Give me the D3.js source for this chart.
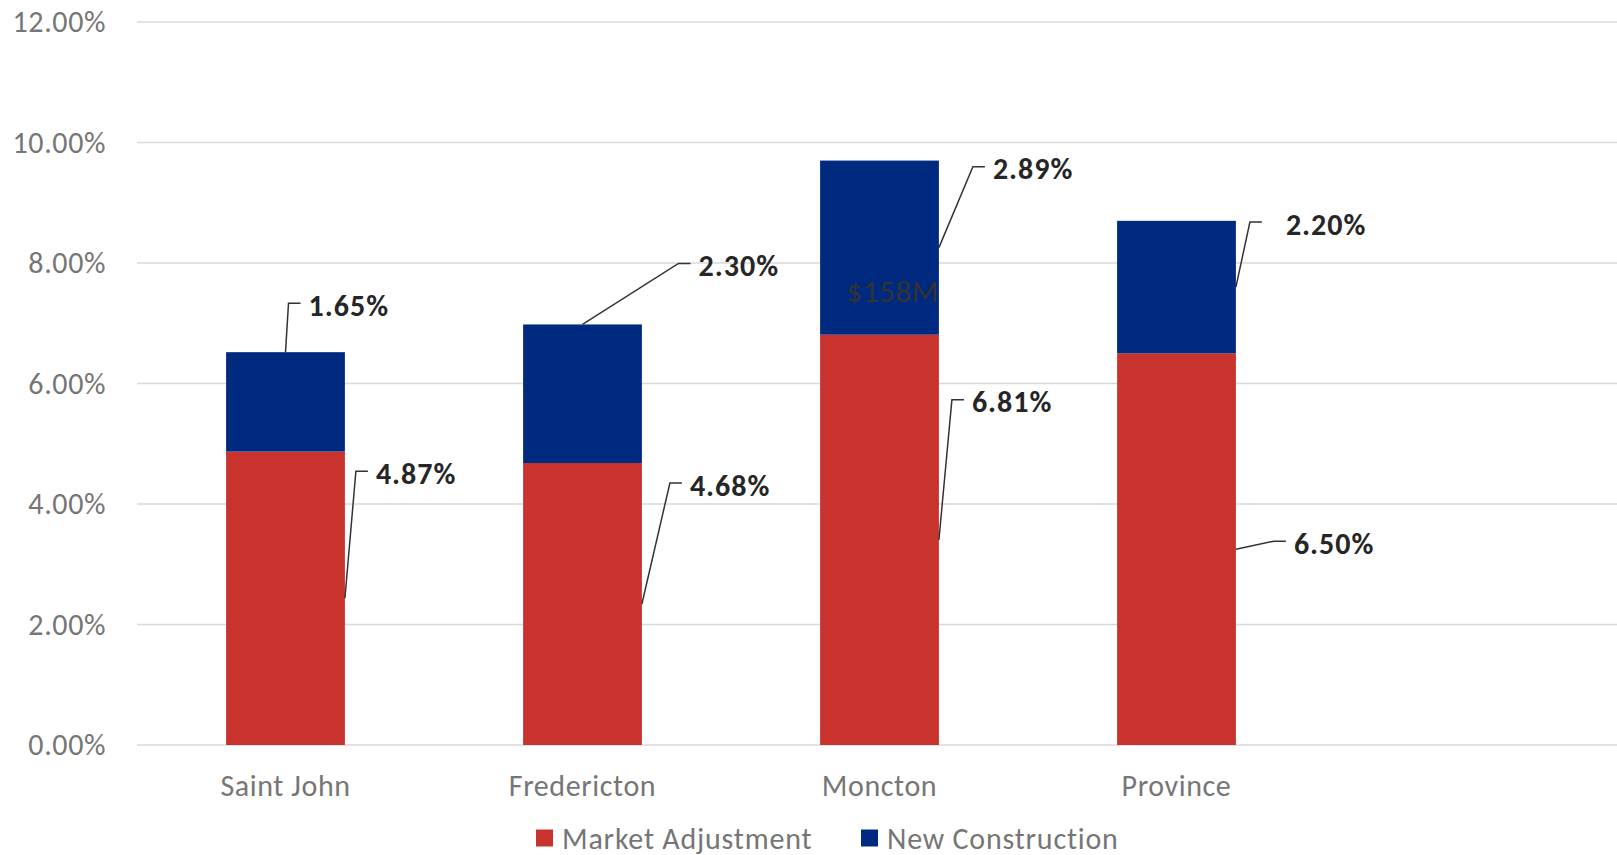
<!DOCTYPE html>
<html>
<head>
<meta charset="utf-8">
<script src="https://cdn.jsdelivr.net/npm/d3@7"></script>
<style>
  html, body { margin: 0; padding: 0; background: #ffffff; }
  svg { display: block; font-family: Carlito, Lato, "Open Sans", sans-serif; }
</style>
</head>
<body>
<svg id="chart" width="1617" height="855"></svg>
<script>
// Data
const categories = ["Saint John", "Fredericton", "Moncton", "Province"];
const marketAdjustment = [0.0487, 0.0468, 0.0681, 0.0650];
const newConstruction = [0.0165, 0.0230, 0.0289, 0.0220];
const seriesNames = ["Market Adjustment", "New Construction"];
const yTicks = [0, 0.02, 0.04, 0.06, 0.08, 0.10, 0.12];
const strayNote = "$158M";

// Styling
const colors = { "Market Adjustment": "#C8332D", "New Construction": "#002A80" };
const gridColor = "#D9D9D9";
const axisTextColor = "#767676";
const labelColor = "#262626";
const textSize = "30px";
const textSpacing = "0.6px";

// Leader-line layout for each data label: where the line leaves the bar
// ("top" = top centre, "side" = right edge at segment middle), the knee offset,
// and the extra gap before the text.
const leaderLayout = {
  "Market Adjustment": [
    { anchor: "side", dx: 11, dy: -127, gap: 8 },
    { anchor: "side", dx: 28, dy: -121, gap: 8 },
    { anchor: "side", dx: 13, dy: -140, gap: 8 },
    { anchor: "side", dx: 38, dy: -8, gap: 8 }
  ],
  "New Construction": [
    { anchor: "top", dx: 3, dy: -49, gap: 8 },
    { anchor: "top", dx: 96, dy: -61, gap: 8 },
    { anchor: "side", dx: 34, dy: -81, gap: 8 },
    { anchor: "side", dx: 14, dy: -65, gap: 24 }
  ]
};

const svg = d3.select("#chart");
const plot = { left: 137, right: 1617, top: 22, bottom: 745 };

// Four category slots, each 297px wide, leaving an empty slot at the right
const slot = 297;
const x = d3.scaleBand()
  .domain(categories)
  .range([plot.left, plot.left + slot * categories.length])
  .paddingInner(0.6)
  .paddingOuter(0.3);

const y = d3.scaleLinear()
  .domain([0, 0.12])
  .range([plot.bottom, plot.top]);

const fmt = d3.format(".2%");

// Gridlines
svg.append("g")
  .selectAll("line")
  .data(yTicks)
  .join("line")
  .attr("x1", plot.left)
  .attr("x2", plot.right)
  .attr("y1", d => y(d))
  .attr("y2", d => y(d))
  .attr("stroke", gridColor)
  .attr("stroke-width", 1.6);

// Y axis labels
const yAxis = d3.axisLeft(y).tickValues(yTicks).tickFormat(fmt).tickSize(0).tickPadding(31);
const yG = svg.append("g").attr("transform", `translate(${plot.left},0)`).call(yAxis);
yG.select(".domain").remove();
yG.selectAll("text")
  .attr("fill", axisTextColor)
  .style("font-size", textSize)
  .style("letter-spacing", textSpacing)
  .style("font-family", "Carlito, Lato, sans-serif");

// X axis labels
const xAxis = d3.axisBottom(x).tickSize(0).tickPadding(30);
const xG = svg.append("g").attr("transform", `translate(0,${plot.bottom})`).call(xAxis);
xG.select(".domain").remove();
xG.selectAll("text")
  .attr("fill", axisTextColor)
  .style("font-size", textSize)
  .style("letter-spacing", textSpacing)
  .style("font-family", "Carlito, Lato, sans-serif");

// Stacked bars
const rows = categories.map((c, i) => ({
  category: c,
  "Market Adjustment": marketAdjustment[i],
  "New Construction": newConstruction[i]
}));
const stacked = d3.stack().keys(seriesNames)(rows);

const layers = svg.append("g")
  .selectAll("g")
  .data(stacked)
  .join("g")
  .attr("fill", d => colors[d.key]);

layers.selectAll("rect")
  .data(d => d.map(p => ({ key: d.key, p })))
  .join("rect")
  .attr("x", d => x(d.p.data.category))
  .attr("width", x.bandwidth())
  .attr("y", d => y(d.p[1]))
  .attr("height", d => y(d.p[0]) - y(d.p[1]));

// Stray value text inside the Moncton new-construction segment
const mIdx = categories.indexOf("Moncton");
const mSeg = stacked[1][mIdx];
svg.append("text")
  .attr("x", x("Moncton") + x.bandwidth())
  .attr("y", (y(mSeg[0]) + y(mSeg[1])) / 2 + 43)
  .attr("text-anchor", "end")
  .attr("dominant-baseline", "central")
  .attr("fill", "#333333")
  .style("font-size", "31px")
  .style("letter-spacing", textSpacing)
  .text(strayNote);

// Data labels with leader lines
const labelG = svg.append("g");
stacked.forEach(layer => {
  layer.forEach((p, i) => {
    const lay = leaderLayout[layer.key][i];
    const cat = p.data.category;
    let ax, ay;
    if (lay.anchor === "top") {
      ax = x(cat) + x.bandwidth() / 2;
      ay = y(p[1]);
    } else {
      ax = x(cat) + x.bandwidth();
      ay = (y(p[0]) + y(p[1])) / 2;
    }
    const kx = ax + lay.dx, ky = ay + lay.dy;
    const hx = kx + 12;
    labelG.append("path")
      .attr("d", d3.line()([[ax, ay], [kx, ky], [hx, ky]]))
      .attr("fill", "none")
      .attr("stroke", "#333333")
      .attr("stroke-width", 1.5);
    labelG.append("text")
      .attr("x", hx + lay.gap)
      .attr("y", ky + 2)
      .attr("dominant-baseline", "central")
      .attr("fill", labelColor)
      .style("font-size", textSize)
      .style("letter-spacing", "1px")
      .style("font-weight", "bold")
      .text(fmt(p[1] - p[0]));
  });
});

// Legend
const legend = svg.append("g").attr("transform", "translate(0,838)");
const legendItems = [
  { name: seriesNames[0], x: 536 },
  { name: seriesNames[1], x: 861 }
];
const li = legend.selectAll("g").data(legendItems).join("g")
  .attr("transform", d => `translate(${d.x},0)`);
li.append("rect")
  .attr("x", 0).attr("y", -8.5)
  .attr("width", 17).attr("height", 17)
  .attr("fill", d => colors[d.name]);
li.append("text")
  .attr("x", 26).attr("y", 0)
  .attr("dominant-baseline", "central")
  .attr("fill", axisTextColor)
  .style("font-size", textSize)
  .style("letter-spacing", "0.8px")
  .text(d => d.name);
</script>
</body>
</html>
